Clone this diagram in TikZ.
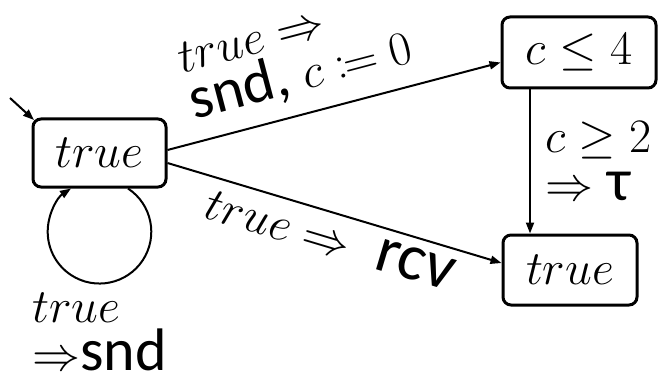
\RequirePackage{fix-cm}
\documentclass[tikz,border=0pt]{standalone}
\usepackage{mathtools}
\usepackage{fontspec}
\newfontfamily\sansf{Carlito}
\usetikzlibrary{arrows.meta}
\DeclareMathSizes{48}{48}{34}{24}
\newcommand\act[1]{{\sansf\fontsize{60}{48}\selectfont #1}}
\newcommand\bigact[1]{{\sansf\fontsize{66}{48}\selectfont #1}}
\begin{document}
\begin{tikzpicture}[x=1pt,y=1pt,
  font=\fontsize{48}{48}\selectfont,
  loc/.style={draw, line width=3pt, rounded corners=8pt, fill=white, inner sep=0pt},
  arr/.style={line width=2pt, -{Triangle[length=11pt,width=8pt]}},
  lab/.style={inner sep=2pt}]
\useasboundingbox (0,0) rectangle (666,378);

% locations
\node[loc, minimum width=133pt, minimum height=68pt] (A) at (99.5,225) {$true$};
\node[loc, minimum width=154pt, minimum height=71pt] (B) at (579,325.5) {$c \leq 4$};
\node[loc, minimum width=134pt, minimum height=70pt] (C) at (570,108) {$true$};
\coordinate (init) at (10,280);

% initial location marker
\draw[arr] (init) -- ([shift={(2.5pt,-2.5pt)}]A.north west);

% transitions
\draw[arr] ([yshift=3pt]A.east) --
  node[lab, sloped, above=12pt, pos=0.43, align=left] {$true \Rightarrow$\\\act{snd,} $c \coloneqq 0$}
  ([yshift=-10pt]B.west);
\draw[arr] ([yshift=-10pt]A.east) --
  node[lab, sloped, below=7pt, pos=0.51] {$true \Rightarrow\;$\ \bigact{rcv}}
  ([yshift=7pt]C.west);
\draw[arr] ([xshift=-49pt]B.south) --
  node[lab, right=12pt, align=left] {$c \geq 2$\\$\Rightarrow$ \act{τ}}
  ([xshift=-49pt]B.south |- C.north);

% self-loop on the initial location
\draw[arr] ([xshift=28.5pt]A.south) arc[start angle=56.6, end angle=-236.6, radius=51.8pt];
\node[lab, anchor=north west, align=left] (loopl) at (30,87) {$true$\\$\Rightarrow$\act{snd}};
\end{tikzpicture}
\end{document}
